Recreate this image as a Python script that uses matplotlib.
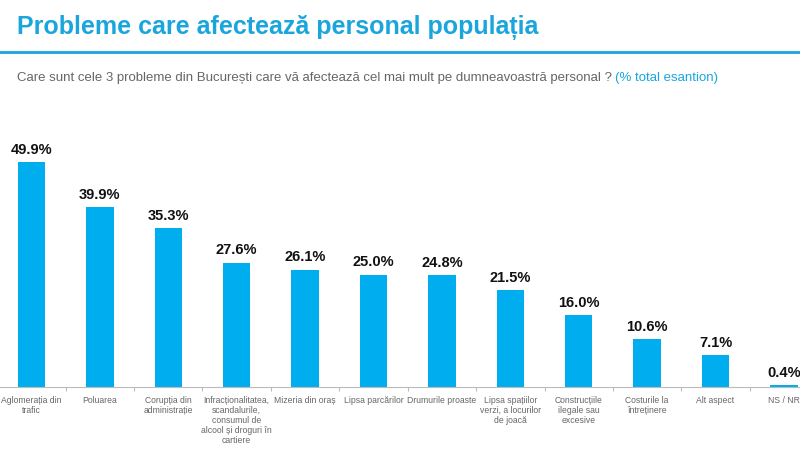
import matplotlib.pyplot as plt

categories = [
    "Aglomerația din\ntrafic",
    "Poluarea",
    "Corupția din\nadministrație",
    "Infracționalitatea,\nscandalurile,\nconsumul de\nalcool și droguri în\ncartiere",
    "Mizeria din oraș",
    "Lipsa parcărilor",
    "Drumurile proaste",
    "Lipsa spațiilor\nverzi, a locurilor\nde joacă",
    "Construcțiile\nilegale sau\nexcesive",
    "Costurile la\nîntreținere",
    "Alt aspect",
    "NS / NR",
]
values = [49.9, 39.9, 35.3, 27.6, 26.1, 25.0, 24.8, 21.5, 16.0, 10.6, 7.1, 0.4]

title = "Probleme care afectează personal populația"
question = "Care sunt cele 3 probleme din București care vă afectează cel mai mult pe dumneavoastră personal ? "
base_note = "(% total esantion)"

BLUE = "#00AEEF"
TITLE_BLUE = "#1AA6DD"
GREY = "#666666"

plt.rcParams["font.family"] = ["Liberation Sans", "DejaVu Sans"]


def main() -> None:
    fig = plt.figure(figsize=(8, 4.5), dpi=100)

    # Header: title, rule and question
    fig.text(0.021, 0.94, title, fontsize=18, fontweight="bold",
             color=TITLE_BLUE, ha="left", va="center")
    fig.add_artist(plt.Line2D([0, 1], [0.884, 0.884], color=TITLE_BLUE,
                              linewidth=2))
    q = fig.text(0.021, 0.827, question, fontsize=9.5, color=GREY,
                 ha="left", va="center")
    fig.canvas.draw()
    bb = q.get_window_extent(fig.canvas.get_renderer())
    fig.text(bb.x1 / fig.bbox.width, 0.827, base_note, fontsize=9.5,
             color=TITLE_BLUE, ha="left", va="center")

    # Bar chart
    ax = fig.add_axes([0, 0.14, 1, 0.571])
    x = list(range(len(values)))
    ax.bar(x, values, width=0.4, color=BLUE)
    for xi, v in zip(x, values):
        ax.text(xi, v + 1.2, f"{v:.1f}%", ha="center", va="bottom",
                fontsize=10.5, fontweight="bold", color="#111111")

    ax.set_xlim(-0.46, 11.235)
    ax.set_ylim(0, 57.1)
    for side in ("top", "right", "left"):
        ax.spines[side].set_visible(False)
    ax.spines["bottom"].set_color("#BBBBBB")
    ax.set_yticks([])

    ax.set_xticks([i + 0.5 for i in x[:-1]])
    ax.set_xticklabels([])
    ax.tick_params(axis="x", length=3, color="#BBBBBB")
    for xi, lab in zip(x, categories):
        ax.text(xi, -2.0, lab, ha="center", va="top", fontsize=6.2,
                color=GREY, linespacing=1.15, clip_on=False)

    plt.savefig("out.png", dpi=100)
    plt.close()


if __name__ == "__main__":
    main()
